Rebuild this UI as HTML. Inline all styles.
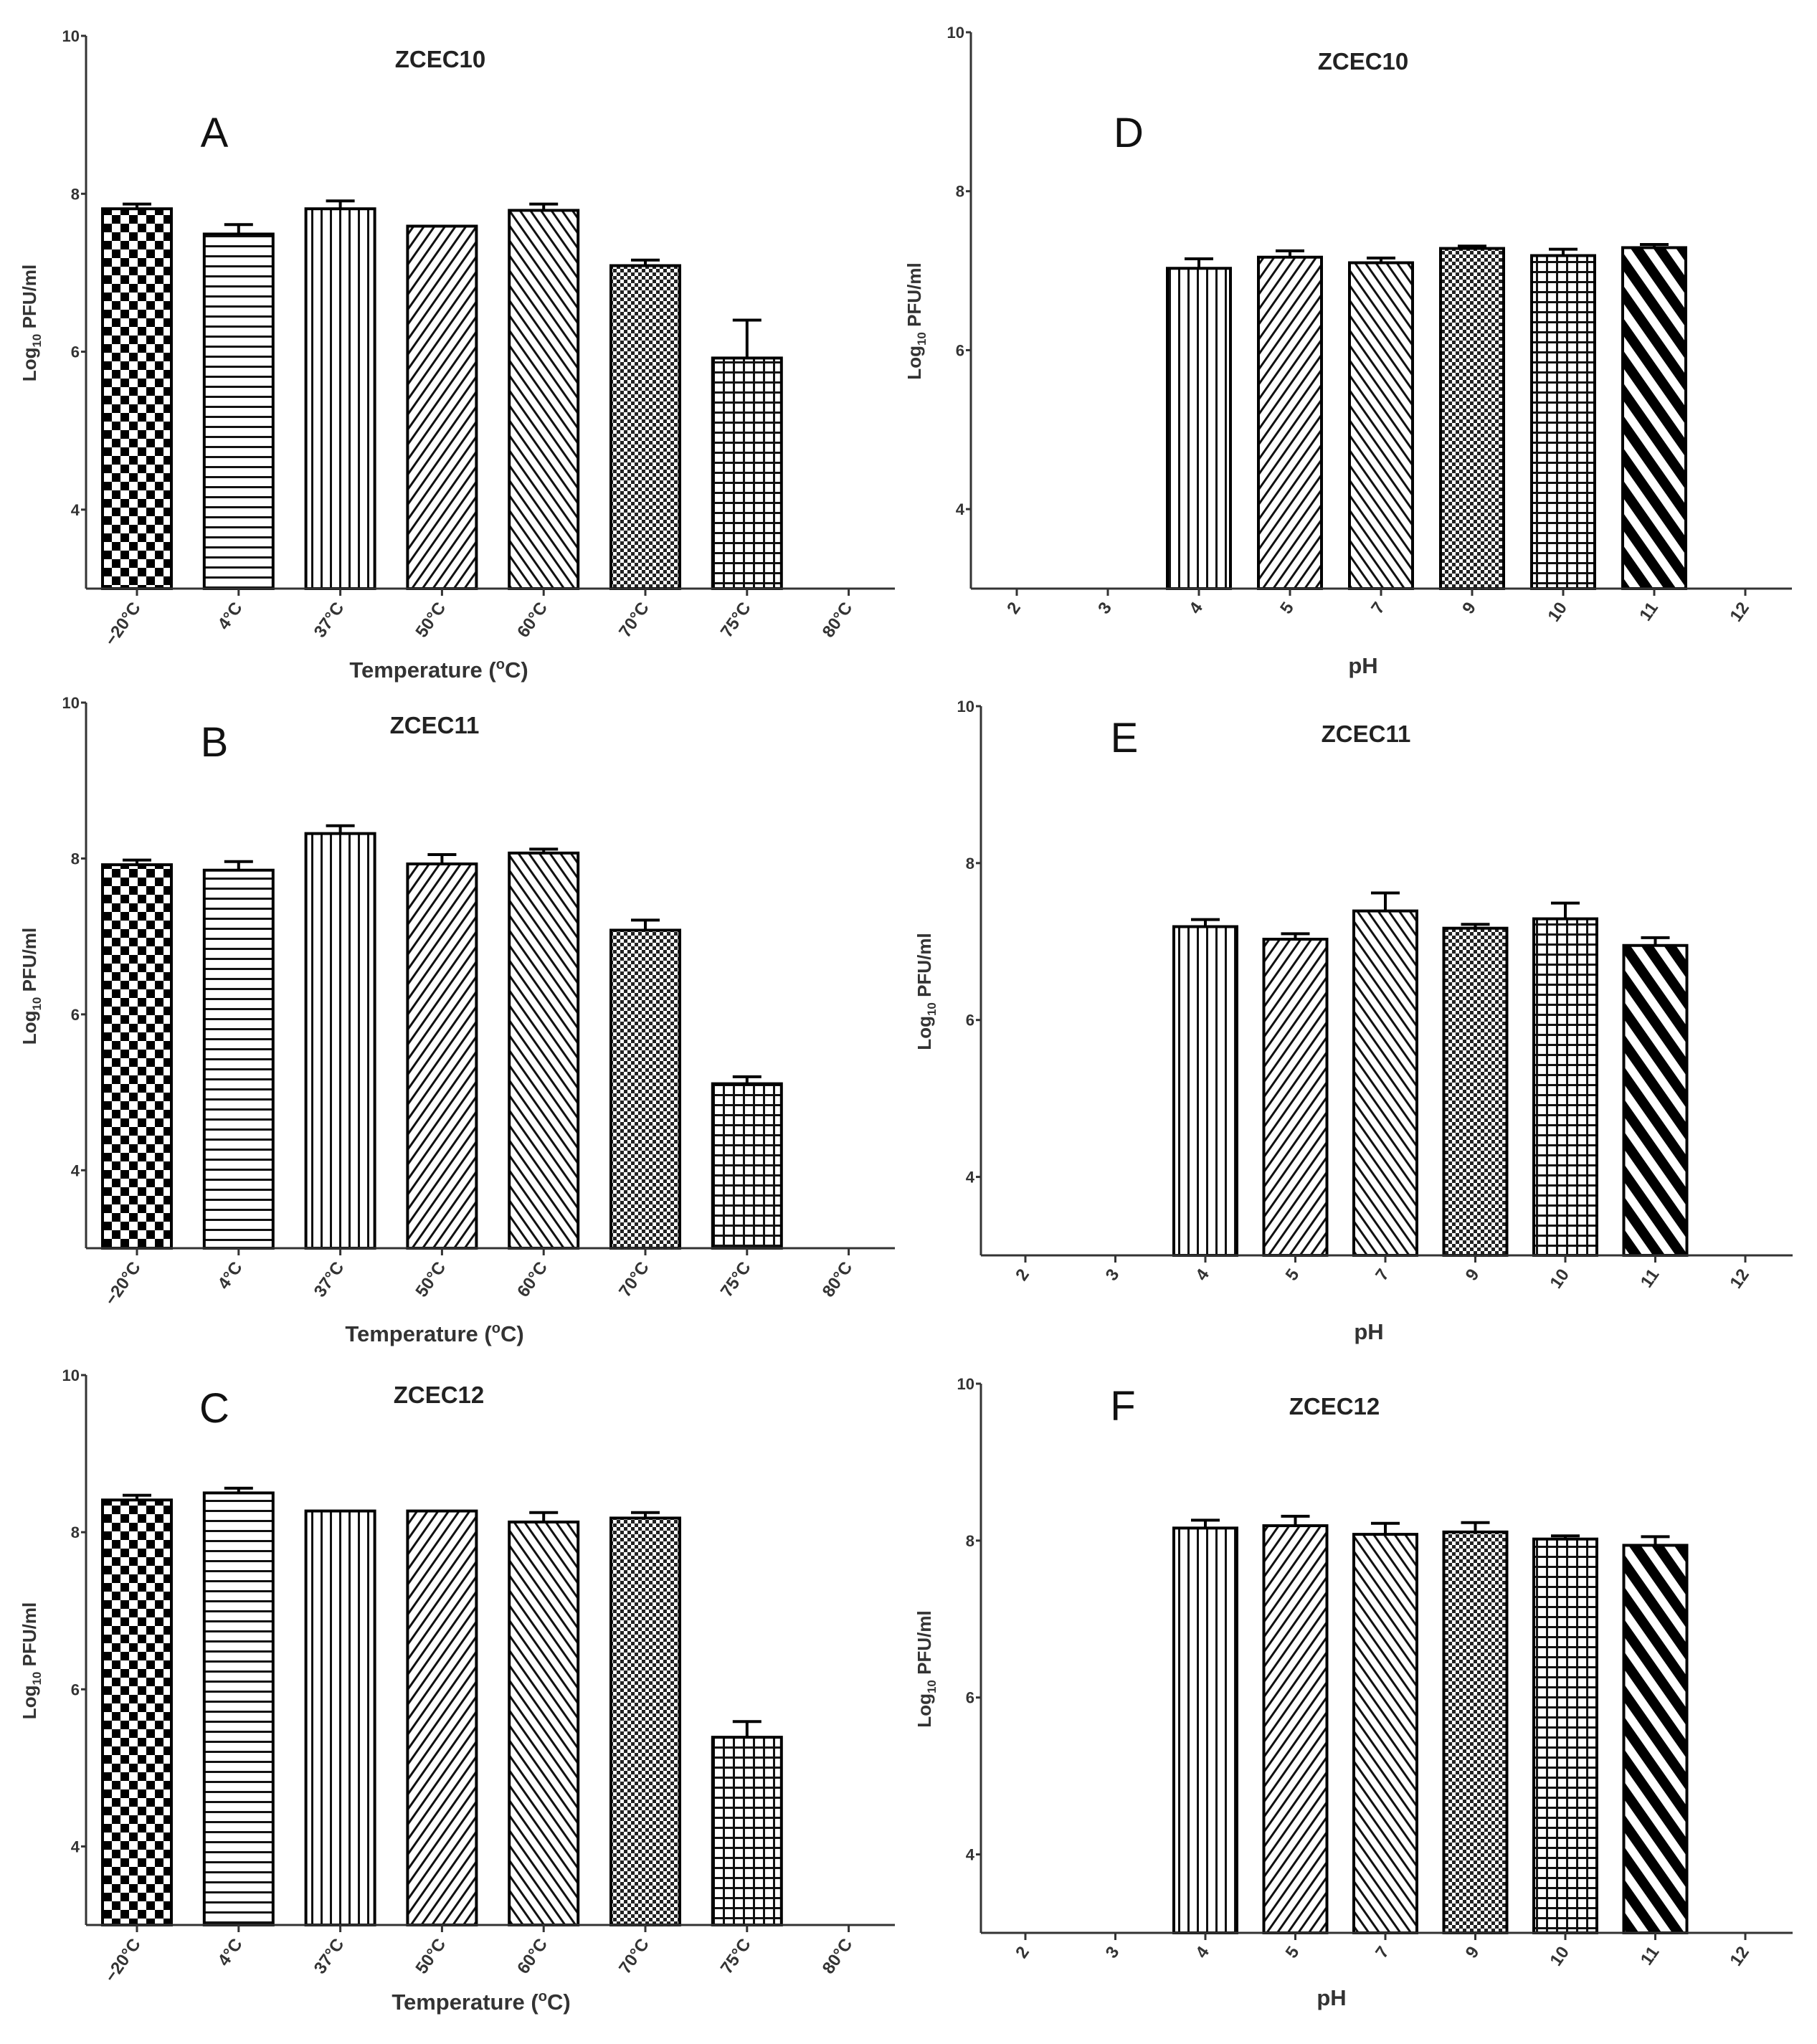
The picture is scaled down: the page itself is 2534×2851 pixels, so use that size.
<!DOCTYPE html>
<html><head><meta charset="utf-8">
<style>
html,body{margin:0;padding:0;background:#fff;}
svg{display:block;}
text{font-family:"Liberation Sans",Arial,sans-serif;}
</style></head>
<body>
<svg id="fig" width="2534" height="2851" viewBox="0 0 2534 2851" xmlns="http://www.w3.org/2000/svg">
<defs>
<pattern id="p-check" width="24" height="24" patternUnits="userSpaceOnUse"><rect width="24" height="24" fill="#fff"/><rect width="12" height="12" fill="#000"/><rect x="12" y="12" width="12" height="12" fill="#000"/></pattern>
<pattern id="p-hlines" width="10" height="14" patternUnits="userSpaceOnUse"><rect width="10" height="14" fill="#fff"/><rect y="6" width="10" height="3" fill="#111"/></pattern>
<pattern id="p-vlines" width="13" height="10" patternUnits="userSpaceOnUse"><rect width="13" height="10" fill="#fff"/><rect x="5" width="3" height="10" fill="#111"/></pattern>
<pattern id="p-fwd" width="12" height="12" patternUnits="userSpaceOnUse" patternTransform="rotate(35)"><rect width="12" height="12" fill="#fff"/><rect x="4" width="3" height="12" fill="#111"/></pattern>
<pattern id="p-back" width="12" height="12" patternUnits="userSpaceOnUse" patternTransform="rotate(-35)"><rect width="12" height="12" fill="#fff"/><rect x="4" width="3" height="12" fill="#111"/></pattern>
<pattern id="p-fine" width="10" height="10" patternUnits="userSpaceOnUse"><rect width="10" height="10" fill="#fff"/><rect width="5" height="5" fill="#222"/><rect x="5" y="5" width="5" height="5" fill="#222"/></pattern>
<pattern id="p-grid" width="14" height="14" patternUnits="userSpaceOnUse"><rect width="14" height="14" fill="#fff"/><rect width="14" height="3" fill="#111"/><rect width="3" height="14" fill="#111"/></pattern>
<pattern id="p-thick" width="26" height="26" patternUnits="userSpaceOnUse" patternTransform="rotate(-35)"><rect width="26" height="26" fill="#fff"/><rect width="14" height="26" fill="#000"/></pattern>
</defs>
</svg>
<script>
// ---- data ----
const tempCategories = ["\u221220\u00B0C","4\u00B0C","37\u00B0C","50\u00B0C","60\u00B0C","70\u00B0C","75\u00B0C","80\u00B0C"];
const phCategories = ["2","3","4","5","7","9","10","11","12"];
const yTicks = [4,6,8,10];
const valuesA = [7.81,7.49,7.81,7.59,7.79,7.09,5.92,null];
const errorsA = [0.06,0.12,0.10,0,0.08,0.07,0.48,null];
const valuesB = [7.92,7.85,8.32,7.93,8.07,7.08,5.11,null];
const errorsB = [0.06,0.11,0.10,0.12,0.05,0.13,0.09,null];
const valuesC = [8.41,8.50,8.27,8.27,8.13,8.18,5.39,null];
const errorsC = [0.06,0.06,0,0,0.12,0.07,0.20,null];
const valuesD = [null,null,7.03,7.17,7.10,7.28,7.19,7.29,null];
const errorsD = [null,null,0.12,0.08,0.06,0.03,0.08,0.04,null];
const valuesE = [null,null,7.19,7.03,7.39,7.17,7.29,6.95,null];
const errorsE = [null,null,0.09,0.07,0.23,0.05,0.20,0.10,null];
const valuesF = [null,null,8.16,8.19,8.08,8.11,8.02,7.94,null];
const errorsF = [null,null,0.10,0.12,0.14,0.12,0.04,0.11,null];

const tempPatterns = ["p-check","p-hlines","p-vlines","p-fwd","p-back","p-fine","p-grid","p-grid"];
const phPatterns = ["p-vlines","p-vlines","p-vlines","p-fwd","p-back","p-fine","p-grid","p-thick","p-thick"];

const panels = [
 {id:"a",letter:"A",title:"ZCEC10",cats:tempCategories,vals:valuesA,errs:errorsA,pats:tempPatterns,ax:120,top:50,bot:821,xEnd:1248,first:191,step:141.8,bw:96,xt:"Temperature (\u00B0C)",tx:614,ty:94,lx:299,ly:205,xtx:612,xty:945},
 {id:"b",letter:"B",title:"ZCEC11",cats:tempCategories,vals:valuesB,errs:errorsB,pats:tempPatterns,ax:120,top:980,bot:1741,xEnd:1248,first:191,step:141.8,bw:96,xt:"Temperature (\u00B0C)",tx:606,ty:1023,lx:299,ly:1055,xtx:606,xty:1871},
 {id:"c",letter:"C",title:"ZCEC12",cats:tempCategories,vals:valuesC,errs:errorsC,pats:tempPatterns,ax:120,top:1918,bot:2685,xEnd:1248,first:191,step:141.8,bw:96,xt:"Temperature (\u00B0C)",tx:612,ty:1957,lx:299,ly:1984,xtx:671,xty:2803},
 {id:"d",letter:"D",title:"ZCEC10",cats:phCategories,vals:valuesD,errs:errorsD,pats:phPatterns,ax:1354,top:45,bot:821,xEnd:2499,first:1418,step:127,bw:88,xt:"pH",tx:1901,ty:97,lx:1574,ly:205,xtx:1901,xty:939},
 {id:"e",letter:"E",title:"ZCEC11",cats:phCategories,vals:valuesE,errs:errorsE,pats:phPatterns,ax:1368,top:985,bot:1751,xEnd:2500,first:1430,step:125.5,bw:88,xt:"pH",tx:1905,ty:1035,lx:1568,ly:1049,xtx:1909,xty:1868},
 {id:"f",letter:"F",title:"ZCEC12",cats:phCategories,vals:valuesF,errs:errorsF,pats:phPatterns,ax:1368,top:1930,bot:2696,xEnd:2500,first:1430,step:125.5,bw:88,xt:"pH",tx:1861,ty:1973,lx:1566,ly:1981,xtx:1857,xty:2797}
];
const yMin = 3, yMax = 10;
const NS = "http://www.w3.org/2000/svg";
const svg = document.getElementById("fig");
function mk(tag, attrs, parent){const e=document.createElementNS(NS,tag);for(const k in attrs)e.setAttribute(k,attrs[k]);(parent||svg).appendChild(e);return e;}

panels.forEach(p=>{
  const g = mk("g",{});
  
  
  const yScale = v => p.bot - (v - yMin) / (yMax - yMin) * (p.bot - p.top);
  const xScale = i => p.first + i * p.step;
  p.vals.forEach((v,i)=>{
    if(v===null) return;
    const x = xScale(i) - p.bw/2, y = yScale(v);
    const r = mk("rect",{x:x,y:y,width:p.bw,height:p.bot-y,fill:"url(#"+p.pats[i]+")",stroke:"#000","stroke-width":4},g);
    
    
    const e = p.errs[i];
    if(e>0){
      const ye = yScale(v+e);
      const eb = mk("path",{d:"M"+xScale(i)+" "+y+"V"+ye+"M"+(xScale(i)-20)+" "+ye+"H"+(xScale(i)+20),stroke:"#000","stroke-width":4,fill:"none"},g);
      
      
    }
  });
  const ya = mk("line",{x1:p.ax,y1:p.top,x2:p.ax,y2:p.bot,stroke:"#333","stroke-width":3},g);
  
  
  const xa = mk("line",{x1:p.ax,y1:p.bot,x2:p.xEnd,y2:p.bot,stroke:"#333","stroke-width":3},g);
  
  
  yTicks.forEach(t=>{
    const y=yScale(t);
    mk("line",{x1:p.ax-7,y1:y,x2:p.ax,y2:y,stroke:"#333","stroke-width":3},g);
    const tl = mk("text",{x:p.ax-9,y:y+8,"text-anchor":"end","font-size":22,"font-weight":"bold",fill:"#333"},g);
    tl.textContent = t;
    
    
  });
  p.cats.forEach((c,i)=>{
    const x = xScale(i);
    mk("line",{x1:x,y1:p.bot,x2:x,y2:p.bot+10,stroke:"#333","stroke-width":3},g);
    const tl = mk("text",{x:x+6,y:p.bot+26,"text-anchor":"end","font-size":24,"font-weight":"bold",fill:"#333",transform:"rotate(-55 "+(x+6)+" "+(p.bot+26)+")"},g);
    tl.textContent = c;
    
    
  });
  const yc = (p.top+p.bot)/2 + 15, yx = p.ax - 70;
  const yt = mk("text",{x:yx,y:yc,"text-anchor":"middle","font-size":26,"font-weight":"bold",fill:"#333",transform:"rotate(-90 "+yx+" "+yc+")"},g);
  yt.innerHTML = 'Log<tspan font-size="17" dy="7">10</tspan><tspan dy="-7"> PFU/ml</tspan>';
  
  
  const xt = mk("text",{x:p.xtx,y:p.xty,"text-anchor":"middle","font-size":31,"font-weight":"bold",fill:"#333"},g);
  if(p.xt==="pH"){xt.textContent="pH";}else{xt.innerHTML='Temperature (<tspan font-size="20" dy="-12">o</tspan><tspan dy="12">C)</tspan>';}
  
  
  const tt = mk("text",{x:p.tx,y:p.ty,"text-anchor":"middle","font-size":33,"font-weight":"bold",fill:"#222"},g);
  tt.textContent = p.title;
  
  
  const lt = mk("text",{x:p.lx,y:p.ly,"text-anchor":"middle","font-size":58,fill:"#111"},g);
  lt.textContent = p.letter;
  
  
});
</script>
</body></html>
